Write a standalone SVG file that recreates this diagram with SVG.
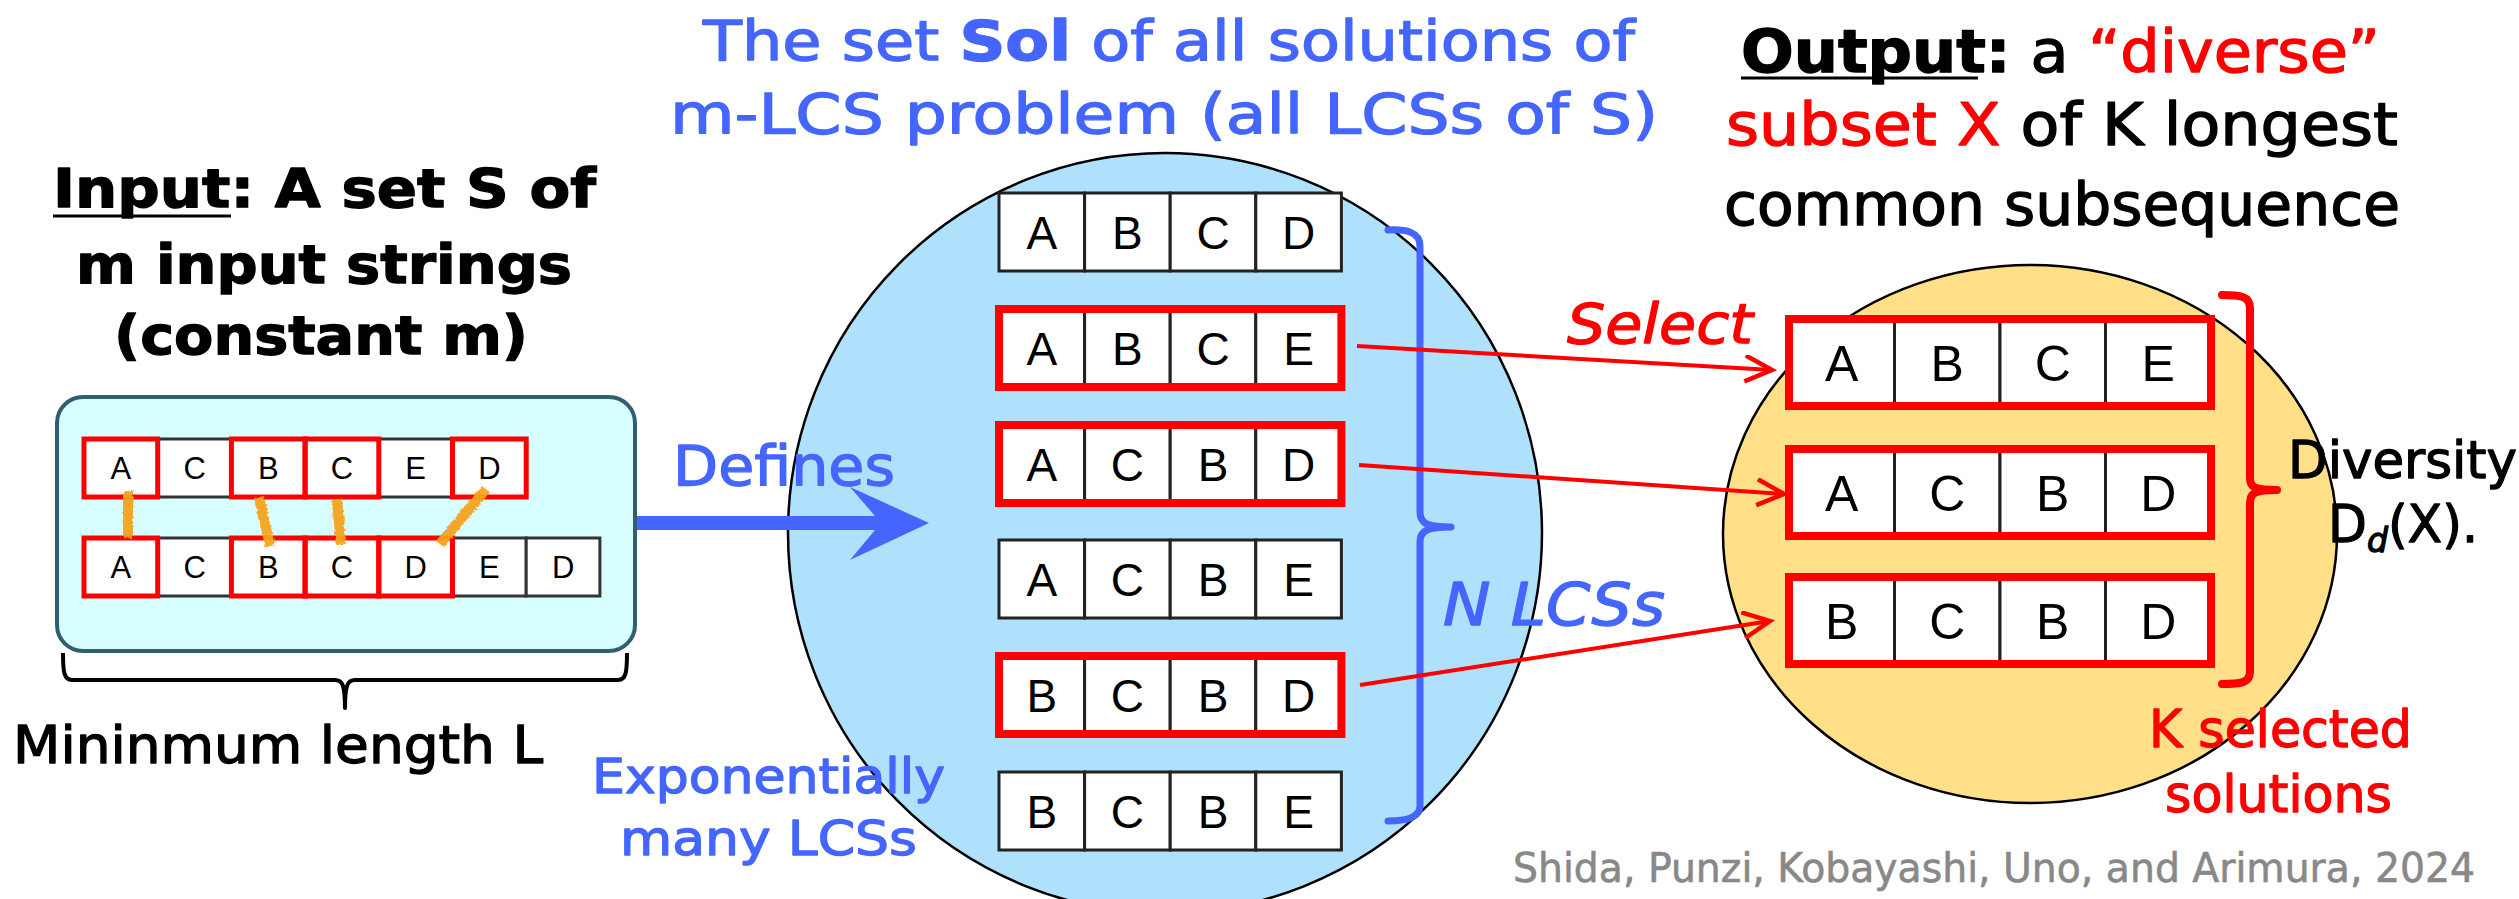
<svg xmlns="http://www.w3.org/2000/svg" width="2519" height="899" viewBox="0 0 2519 899">
<style>
.hw{font-family:"DejaVu Sans","Liberation Sans",sans-serif;stroke-width:1.3;stroke-linejoin:round;}
.bk{fill:#000;stroke:#000;}
.bl{fill:#4466ff;stroke:#4466ff;}
.rd{fill:#ff0000;stroke:#ff0000;}
.gy{fill:#888888;stroke:#888888;stroke-width:0.6;}
.cell{fill:#fff;stroke:#222;stroke-width:3;}
.cellr{fill:none;stroke:#ff0000;stroke-width:8;}
.scell{fill:#fff;stroke:#333;stroke-width:3;}
.scellr{fill:none;stroke:#ff0000;stroke-width:5;}
.lt{font-family:"Liberation Sans",Arial,sans-serif;text-anchor:middle;fill:#000;}
.hl{stroke:#f5a31c;stroke-width:10;stroke-linecap:butt;fill:none;opacity:0.95;}
.sel{stroke:#ff0000;stroke-width:4;fill:none;}
</style>
<defs>
<marker id="openArrow" markerUnits="userSpaceOnUse" markerWidth="40" markerHeight="40" refX="28" refY="14" orient="auto">
<path d="M1,1 L28,14 L1,27" fill="none" stroke="#ff0000" stroke-width="4.5" stroke-linejoin="miter"/>
</marker>
<filter id="rough" x="-20%" y="-20%" width="140%" height="140%">
<feTurbulence type="fractalNoise" baseFrequency="0.35" numOctaves="2" seed="3"/>
<feDisplacementMap in="SourceGraphic" scale="4" xChannelSelector="R" yChannelSelector="G"/>
</filter>
</defs>
<rect width="2519" height="899" fill="#ffffff"/>

<!-- Input title -->
<g id="input-title" class="hw bk" font-weight="bold" font-size="54">
<text x="53" y="207" textLength="543" lengthAdjust="spacingAndGlyphs">Input: A set S of</text>
<line x1="53" y1="216" x2="231" y2="216" stroke="#000" stroke-width="3"/>
<text x="76" y="283" textLength="496" lengthAdjust="spacingAndGlyphs">m input strings</text>
<text x="114" y="354" textLength="414" lengthAdjust="spacingAndGlyphs">(constant m)</text>
</g>

<!-- Input box -->
<g id="input-box">
<rect x="57" y="397" width="578" height="254" rx="26" fill="#d8ffff" stroke="#2f5f70" stroke-width="4"/>
<g id="string1">
<rect class="scell" x="84" y="439" width="73.7" height="58"/>
<rect class="scell" x="157.7" y="439" width="73.7" height="58"/>
<rect class="scell" x="231.4" y="439" width="73.7" height="58"/>
<rect class="scell" x="305.1" y="439" width="73.7" height="58"/>
<rect class="scell" x="378.8" y="439" width="73.7" height="58"/>
<rect class="scell" x="452.5" y="439" width="73.7" height="58"/>
<rect class="scellr" x="84" y="439" width="73.7" height="58"/>
<rect class="scellr" x="231.4" y="439" width="73.7" height="58"/>
<rect class="scellr" x="305.1" y="439" width="73.7" height="58"/>
<rect class="scellr" x="452.5" y="439" width="73.7" height="58"/>
<g class="lt" font-size="31">
<text x="120.9" y="479">A</text><text x="194.6" y="479">C</text><text x="268.3" y="479">B</text>
<text x="342" y="479">C</text><text x="415.7" y="479">E</text><text x="489.4" y="479">D</text>
</g>
</g>
<g id="string2">
<rect class="scell" x="84" y="538" width="73.7" height="58"/>
<rect class="scell" x="157.7" y="538" width="73.7" height="58"/>
<rect class="scell" x="231.4" y="538" width="73.7" height="58"/>
<rect class="scell" x="305.1" y="538" width="73.7" height="58"/>
<rect class="scell" x="378.8" y="538" width="73.7" height="58"/>
<rect class="scell" x="452.5" y="538" width="73.7" height="58"/>
<rect class="scell" x="526.2" y="538" width="73.7" height="58"/>
<rect class="scellr" x="84" y="538" width="73.7" height="58"/>
<rect class="scellr" x="231.4" y="538" width="73.7" height="58"/>
<rect class="scellr" x="305.1" y="538" width="73.7" height="58"/>
<rect class="scellr" x="378.8" y="538" width="73.7" height="58"/>
<g class="lt" font-size="31">
<text x="120.9" y="578">A</text><text x="194.6" y="578">C</text><text x="268.3" y="578">B</text>
<text x="342" y="578">C</text><text x="415.7" y="578">D</text><text x="489.4" y="578">E</text><text x="563.1" y="578">D</text>
</g>
</g>
<g id="matches" filter="url(#rough)">
<line class="hl" x1="128" y1="491" x2="128" y2="538"/>
<line class="hl" x1="259" y1="497" x2="270" y2="546"/>
<line class="hl" x1="337" y1="499" x2="341" y2="544"/>
<line class="hl" x1="486" y1="489" x2="440" y2="544"/>
</g>
</g>

<!-- Bottom brace and label -->
<g id="length-brace">
<path d="M63,653 C63,672 64,680 72,680 L335,680 C342,680 345,684 345,708 C345,684 348,680 355,680 L618,680 C626,680 627,672 627,653" fill="none" stroke="#000" stroke-width="4" stroke-linejoin="round"/>
<text class="hw bk" x="13" y="763" font-size="52" textLength="530" lengthAdjust="spacingAndGlyphs">Mininmum length L</text>
</g>

<!-- Blue title -->
<g id="sol-title" class="hw bl" font-size="56">
<text x="703" y="60" textLength="932" lengthAdjust="spacingAndGlyphs">The set <tspan font-weight="bold">Sol</tspan> of all solutions of</text>
<text x="670" y="133" textLength="988" lengthAdjust="spacingAndGlyphs">m-LCS problem (all LCSs of S)</text>
</g>

<!-- Solution set circle -->
<g id="sol-set">
<ellipse cx="1165" cy="533" rx="377" ry="380" fill="#afe1fd" stroke="#000" stroke-width="2.5"/>
<g id="lcs-rows">
<g id="row1">
<rect class="cell" x="999" y="193" width="85.6" height="78"/><rect class="cell" x="1084.6" y="193" width="85.6" height="78"/>
<rect class="cell" x="1170.2" y="193" width="85.6" height="78"/><rect class="cell" x="1255.8" y="193" width="85.6" height="78"/>
<g class="lt" font-size="46"><text x="1041.8" y="249">A</text><text x="1127.4" y="249">B</text><text x="1213" y="249">C</text><text x="1298.6" y="249">D</text></g>
</g>
<g id="row2">
<rect class="cell" x="999" y="309" width="85.6" height="78"/><rect class="cell" x="1084.6" y="309" width="85.6" height="78"/>
<rect class="cell" x="1170.2" y="309" width="85.6" height="78"/><rect class="cell" x="1255.8" y="309" width="85.6" height="78"/>
<rect class="cellr" x="999" y="309" width="342.4" height="78"/>
<g class="lt" font-size="46"><text x="1041.8" y="365">A</text><text x="1127.4" y="365">B</text><text x="1213" y="365">C</text><text x="1298.6" y="365">E</text></g>
</g>
<g id="row3">
<rect class="cell" x="999" y="425" width="85.6" height="78"/><rect class="cell" x="1084.6" y="425" width="85.6" height="78"/>
<rect class="cell" x="1170.2" y="425" width="85.6" height="78"/><rect class="cell" x="1255.8" y="425" width="85.6" height="78"/>
<rect class="cellr" x="999" y="425" width="342.4" height="78"/>
<g class="lt" font-size="46"><text x="1041.8" y="481">A</text><text x="1127.4" y="481">C</text><text x="1213" y="481">B</text><text x="1298.6" y="481">D</text></g>
</g>
<g id="row4">
<rect class="cell" x="999" y="540" width="85.6" height="78"/><rect class="cell" x="1084.6" y="540" width="85.6" height="78"/>
<rect class="cell" x="1170.2" y="540" width="85.6" height="78"/><rect class="cell" x="1255.8" y="540" width="85.6" height="78"/>
<g class="lt" font-size="46"><text x="1041.8" y="596">A</text><text x="1127.4" y="596">C</text><text x="1213" y="596">B</text><text x="1298.6" y="596">E</text></g>
</g>
<g id="row5">
<rect class="cell" x="999" y="656" width="85.6" height="78"/><rect class="cell" x="1084.6" y="656" width="85.6" height="78"/>
<rect class="cell" x="1170.2" y="656" width="85.6" height="78"/><rect class="cell" x="1255.8" y="656" width="85.6" height="78"/>
<rect class="cellr" x="999" y="656" width="342.4" height="78"/>
<g class="lt" font-size="46"><text x="1041.8" y="712">B</text><text x="1127.4" y="712">C</text><text x="1213" y="712">B</text><text x="1298.6" y="712">D</text></g>
</g>
<g id="row6">
<rect class="cell" x="999" y="772" width="85.6" height="78"/><rect class="cell" x="1084.6" y="772" width="85.6" height="78"/>
<rect class="cell" x="1170.2" y="772" width="85.6" height="78"/><rect class="cell" x="1255.8" y="772" width="85.6" height="78"/>
<g class="lt" font-size="46"><text x="1041.8" y="828">B</text><text x="1127.4" y="828">C</text><text x="1213" y="828">B</text><text x="1298.6" y="828">E</text></g>
</g>
</g>
</g>

<!-- N LCSs bracket -->
<g id="n-bracket">
<path d="M1388,230 C1406,229 1420,232 1420,246 L1420,512 C1420,524 1428,527 1451,527 M1451,527 C1428,527 1420,530 1420,542 L1420,806 C1420,818 1406,821 1388,821" fill="none" stroke="#4466ff" stroke-width="7" stroke-linecap="round" stroke-linejoin="round"/>
<text class="hw bl" x="1443" y="625" font-size="58" font-style="italic" textLength="222" lengthAdjust="spacingAndGlyphs">N LCSs</text>
</g>

<g id="exp-label" class="hw bl" font-size="48">
<text x="592" y="793" textLength="353" lengthAdjust="spacingAndGlyphs">Exponentially</text>
<text x="620" y="855" textLength="297" lengthAdjust="spacingAndGlyphs">many LCSs</text>
</g>

<!-- Output title -->
<g id="output-title" class="hw bk" font-size="58">
<text x="1741" y="72" textLength="639" lengthAdjust="spacingAndGlyphs"><tspan font-weight="bold">Output:</tspan> a <tspan class="rd">“diverse”</tspan></text>
<line x1="1741" y1="78" x2="1978" y2="78" stroke="#000" stroke-width="3"/>
<text x="1726" y="145" textLength="672" lengthAdjust="spacingAndGlyphs"><tspan class="rd">subset X</tspan> of K longest</text>
<text x="1724" y="225" textLength="676" lengthAdjust="spacingAndGlyphs">common subsequence</text>
</g>

<!-- Selected set -->
<g id="selected-set">
<ellipse cx="2030" cy="534" rx="307" ry="269" fill="#ffdf88" stroke="#000" stroke-width="2.5"/>
<g id="sel-row1">
<rect class="cell" x="1789" y="319" width="105.5" height="87" stroke-width="2"/><rect class="cell" x="1894.5" y="319" width="105.5" height="87" stroke-width="2"/>
<rect class="cell" x="2000" y="319" width="105.5" height="87" stroke-width="2"/><rect class="cell" x="2105.5" y="319" width="105.5" height="87" stroke-width="2"/>
<rect class="cellr" x="1789" y="319" width="422" height="87"/>
<g class="lt" font-size="50"><text x="1841.8" y="380.5">A</text><text x="1947.3" y="380.5">B</text><text x="2052.8" y="380.5">C</text><text x="2158.3" y="380.5">E</text></g>
</g>
<g id="sel-row2">
<rect class="cell" x="1789" y="449" width="105.5" height="87" stroke-width="2"/><rect class="cell" x="1894.5" y="449" width="105.5" height="87" stroke-width="2"/>
<rect class="cell" x="2000" y="449" width="105.5" height="87" stroke-width="2"/><rect class="cell" x="2105.5" y="449" width="105.5" height="87" stroke-width="2"/>
<rect class="cellr" x="1789" y="449" width="422" height="87"/>
<g class="lt" font-size="50"><text x="1841.8" y="510.5">A</text><text x="1947.3" y="510.5">C</text><text x="2052.8" y="510.5">B</text><text x="2158.3" y="510.5">D</text></g>
</g>
<g id="sel-row3">
<rect class="cell" x="1789" y="577" width="105.5" height="87" stroke-width="2"/><rect class="cell" x="1894.5" y="577" width="105.5" height="87" stroke-width="2"/>
<rect class="cell" x="2000" y="577" width="105.5" height="87" stroke-width="2"/><rect class="cell" x="2105.5" y="577" width="105.5" height="87" stroke-width="2"/>
<rect class="cellr" x="1789" y="577" width="422" height="87"/>
<g class="lt" font-size="50"><text x="1841.8" y="638.5">B</text><text x="1947.3" y="638.5">C</text><text x="2052.8" y="638.5">B</text><text x="2158.3" y="638.5">D</text></g>
</g>
</g>

<!-- K bracket -->
<g id="k-bracket">
<path d="M2222,295 C2240,295 2250,296 2250,308 L2250,478 C2250,488 2255,490 2277,490 M2277,490 C2255,490 2250,493 2250,503 L2250,672 C2250,683 2240,684 2222,684" fill="none" stroke="#ff0000" stroke-width="8" stroke-linecap="round" stroke-linejoin="round"/>
</g>

<g id="diversity-label" class="hw bk" font-size="52">
<text x="2288" y="478" textLength="229" lengthAdjust="spacingAndGlyphs">Diversity</text>
<text x="2328" y="542" textLength="150" lengthAdjust="spacingAndGlyphs">D<tspan font-size="34" font-style="italic" dy="10">d</tspan><tspan dy="-10">(X).</tspan></text>
</g>

<g id="k-label" class="hw rd" font-size="52">
<text x="2149" y="747" textLength="263" lengthAdjust="spacingAndGlyphs">K selected</text>
<text x="2165" y="812" textLength="227" lengthAdjust="spacingAndGlyphs">solutions</text>
</g>

<!-- Connectors -->
<g id="connectors">
<polygon id="defines-arrow" points="637,516 875,516 850,487 929,523 850,560 875,530 637,530" fill="#4466ff"/>
<line class="sel" x1="1357" y1="346" x2="1772" y2="370" marker-end="url(#openArrow)"/>
<line class="sel" x1="1359" y1="465" x2="1784" y2="494" marker-end="url(#openArrow)"/>
<line class="sel" x1="1360" y1="685" x2="1770" y2="621" marker-end="url(#openArrow)"/>
</g>

<text class="hw bl" x="673" y="485" font-size="56" textLength="222" lengthAdjust="spacingAndGlyphs">Defines</text>
<text class="hw rd" x="1567" y="343" font-size="56" font-style="italic" textLength="186" lengthAdjust="spacingAndGlyphs">Select</text>

<text id="credit" class="hw gy" x="1513" y="882" font-size="40" textLength="962" lengthAdjust="spacingAndGlyphs">Shida, Punzi, Kobayashi, Uno, and Arimura, 2024</text>
</svg>
